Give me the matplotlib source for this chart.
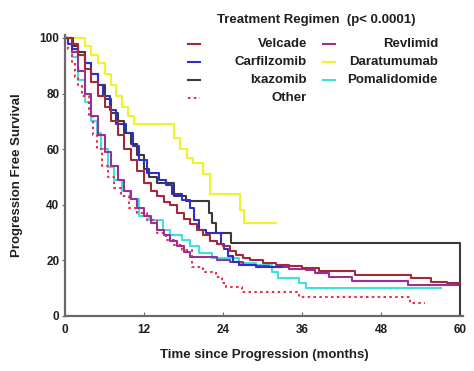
import matplotlib
matplotlib.use("Agg")
import matplotlib.pyplot as plt
from matplotlib.lines import Line2D

# ---------------- data ----------------
regimens = ["Velcade", "Carfilzomib", "Ixazomib", "Other",
            "Revlimid", "Daratumumab", "Pomalidomide"]

velcade_t = [0, 1, 2, 3, 4, 5, 6, 7, 8, 9, 10, 11, 12, 13, 14, 15, 16, 17, 18, 19,
             20, 21, 22, 23, 24, 25, 26, 27, 28, 30, 32, 34, 36, 38.5, 44, 52.5, 55.5, 58, 60]
velcade_s = [100, 98, 94, 89, 84, 79, 75, 70, 65, 60, 56, 52, 48, 45, 43, 41, 40, 37, 35, 33,
             31, 29, 27, 26, 25, 23.5, 22, 21, 20, 19, 18.5, 18, 17.3, 16.3, 14.7, 13.7, 12.2, 11.8, 11.8]

carfil_t = [0, 0.5, 1, 2, 3, 4, 5, 5.7, 6.8, 7.8, 9.3, 10.3, 11.3, 12.4, 14.3, 15.4, 16.3,
            17.8, 18.9, 19.6, 20.4, 21.4, 23.7, 24.1, 24.7, 25.5, 26.4, 29, 33]
carfil_s = [100, 98, 96, 94, 91, 87, 83, 79, 74, 69, 66, 61, 56, 51.4, 49, 47, 44,
            41.7, 39, 34.5, 31, 30, 26, 24, 21.5, 19.5, 18.3, 17.6, 17.6]

ixa_t = [0, 1.2, 2, 3, 4, 5, 6, 7, 8, 9, 10, 11, 12, 12.8, 13.9, 16.5, 18.4, 21.9, 22.3,
         22.9, 25.2, 60]
ixa_s = [100, 97, 95, 91, 87, 83, 78, 73, 70, 66, 62, 58, 53, 50, 48, 43, 41.4, 37, 33.5,
         30, 26.2, 0]

other_t = [0, 0.5, 1, 1.5, 2, 2.6, 3.6, 4.2, 4.8, 5.6, 6.5, 7.5, 8.5, 9.7, 11, 12.4, 14,
           15.4, 16.5, 17.8, 19.3, 21, 22.9, 23.8, 24.4, 26.8, 35.5, 52.3, 54.6]
other_s = [100, 96, 91, 86, 83, 79, 72, 65, 60, 54, 50, 46, 43, 39, 37, 34.5, 30,
           27.3, 25.5, 23.7, 17.6, 16, 14, 12, 10.4, 8.6, 6.8, 4.7, 4.7]

revl_t = [0, 1, 2, 3, 4, 5, 6, 7, 8, 9, 10, 11, 12, 13, 14, 15, 16, 17, 18, 19, 23, 25,
          27, 29, 31, 34, 36.5, 38, 40, 43.5, 52, 60]
revl_s = [100, 95, 88, 80, 72, 65, 59, 54, 49, 45, 42, 39, 36, 33.5, 31, 29, 27, 25, 23,
          21.3, 20, 19.5, 18.5, 18, 17.6, 17, 16.5, 15.5, 14, 12.5, 11, 11]

dara_t = [0, 3, 4, 5, 6, 7, 7.8, 8.6, 9.5, 10.5, 16.5, 17.5, 18.5, 19.5, 21, 22, 26.6, 27.2, 32]
dara_s = [100, 97, 94, 91, 87, 83, 79, 75, 72, 69, 64, 60, 57, 55, 51, 44, 38, 33.5, 33.5]

poma_t = [0, 1, 2, 3, 4, 4.8, 5.5, 6.6, 7.5, 8.6, 9.8, 11.2, 12.8, 14.8, 16, 17.8, 19,
          20.4, 22.3, 26.4, 29, 31.4, 32.4, 35.5, 36.5, 57]
poma_s = [100, 93, 85, 77, 70, 66, 60, 53.6, 49, 45, 42, 36, 34.5, 31, 29, 27.3, 25,
          22.7, 21, 19, 18.3, 15.8, 13.7, 12, 10.2, 10.2]

x_ticks = [0, 12, 24, 36, 48, 60]
y_ticks = [0, 20, 40, 60, 80, 100]

# ---------------- styles ----------------
styles = {
    "Velcade": dict(color="#a3283a", ls="-"),
    "Carfilzomib": dict(color="#2f2fc8", ls="-"),
    "Ixazomib": dict(color="#3a3a3a", ls="-"),
    "Other": dict(color="#e8324a", ls=(0, (1.2, 1.6))),
    "Revlimid": dict(color="#9a3096", ls="-"),
    "Daratumumab": dict(color="#f2f22a", ls="-"),
    "Pomalidomide": dict(color="#3fe0e0", ls="-"),
}
series = {
    "Daratumumab": (dara_t, dara_s),
    "Pomalidomide": (poma_t, poma_s),
    "Other": (other_t, other_s),
    "Revlimid": (revl_t, revl_s),
    "Ixazomib": (ixa_t, ixa_s),
    "Carfilzomib": (carfil_t, carfil_s),
    "Velcade": (velcade_t, velcade_s),
}

FONT = "Liberation Sans"
TXT = "#1e1e1e"

fig = plt.figure(figsize=(4.74, 3.71), dpi=100)
W, H = 474, 371
ax = fig.add_axes([65 / W, 1 - 316 / H, (463 - 65) / W, (316 - 35.2) / H])

for name, (t, s) in series.items():
    st = styles[name]
    ax.step(t, s, where="post", color=st["color"], linestyle=st["ls"], lw=1.5)

ax.set_xlim(0, 60.4)
ax.set_ylim(0, 101)
ax.set_xticks(x_ticks)
ax.set_yticks(y_ticks)
for sp in ["top", "right"]:
    ax.spines[sp].set_visible(False)
for sp in ["left", "bottom"]:
    ax.spines[sp].set_color("#6a6a6a")
    ax.spines[sp].set_linewidth(1.6)
ax.tick_params(axis="x", direction="in", length=3, color="#6a6a6a", pad=6)
ax.tick_params(axis="y", direction="out", length=2, color="#6a6a6a", pad=2)
for lab in ax.get_xticklabels() + ax.get_yticklabels():
    lab.set_fontfamily(FONT)
    lab.set_fontweight("bold")
    lab.set_fontsize(8.5)
    lab.set_color(TXT)

ax.set_xlabel("Time since Progression (months)", fontfamily=FONT, fontweight="bold",
              fontsize=9.5, color=TXT, labelpad=9)
ax.set_ylabel("Progression Free Survival", fontfamily=FONT, fontweight="bold",
              fontsize=9.5, color=TXT, labelpad=12)

# ---------------- legend (drawn manually, right-aligned labels) ----------------
fig.text(316 / W, 1 - 20 / H, "Treatment Regimen  (p< 0.0001)", ha="center", va="center",
         fontfamily=FONT, fontweight="bold", fontsize=9.5, color=TXT)
col1 = ["Velcade", "Carfilzomib", "Ixazomib", "Other"]
col2 = ["Revlimid", "Daratumumab", "Pomalidomide"]
rows_y = [44, 62, 80, 98]
for names, lx0, lx1, tx in [(col1, 188, 200, 307), (col2, 323, 335, 438)]:
    for name, ry in zip(names, rows_y):
        st = styles[name]
        fig.add_artist(Line2D([lx0 / W, lx1 / W], [1 - ry / H, 1 - ry / H],
                              color=st["color"], linestyle=st["ls"], lw=1.5,
                              transform=fig.transFigure))
        fig.text(tx / W, 1 - ry / H, name, ha="right", va="center", fontfamily=FONT,
                 fontweight="bold", fontsize=9.5, color=TXT)

fig.savefig("out.png", dpi=100)
